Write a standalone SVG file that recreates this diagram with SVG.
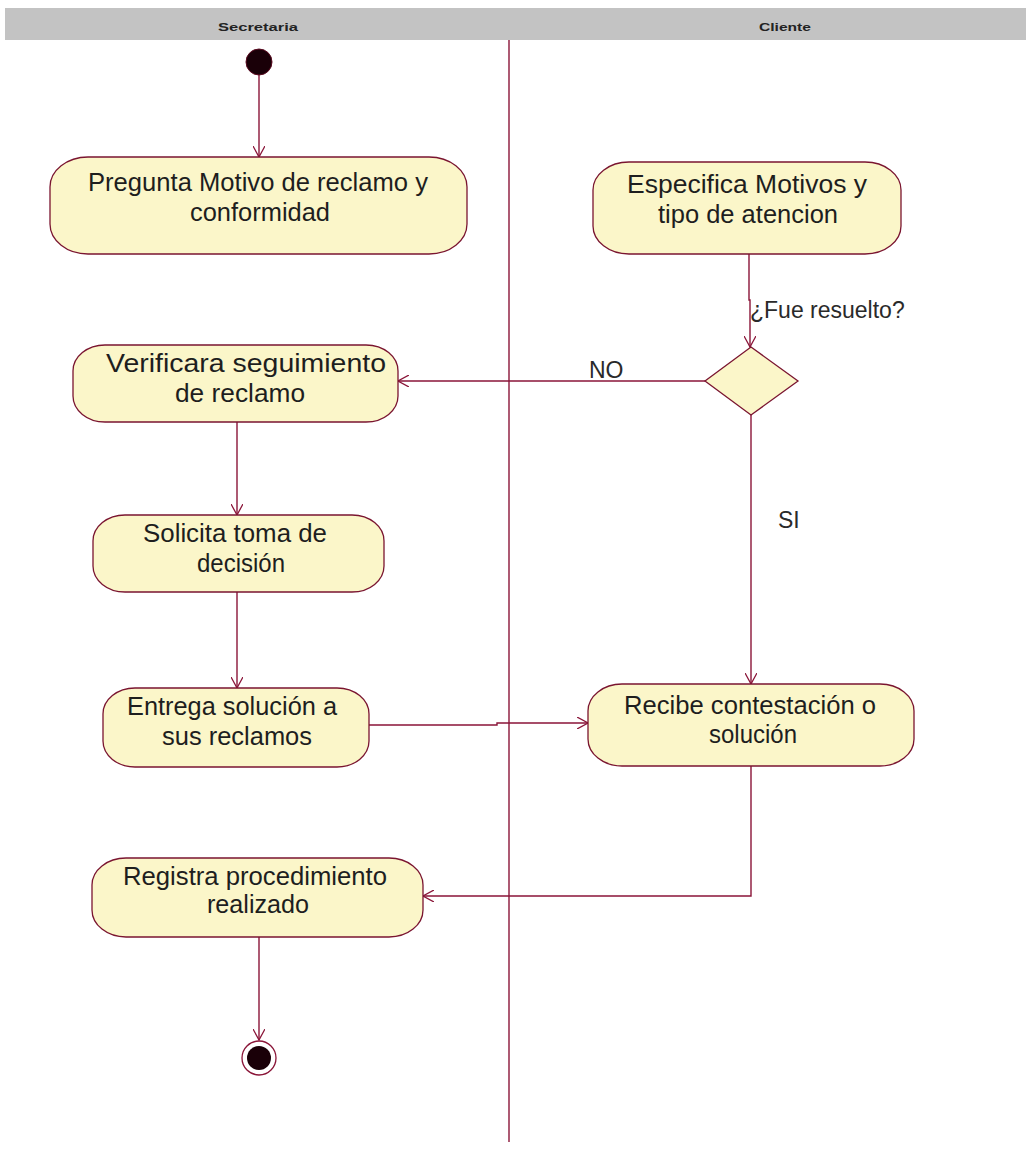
<svg xmlns="http://www.w3.org/2000/svg" width="1026" height="1150" viewBox="0 0 1026 1150">
  <style>
    .lane-title { font-family: "Liberation Sans", Arial, sans-serif; font-size: 11px; font-weight: bold; fill: #222; text-anchor: middle; }
    .act { fill: #fbf6c9; stroke: #7a1530; stroke-width: 1.3; }
    .lbl { font-family: "Liberation Sans", Arial, sans-serif; font-size: 25px; fill: #1e1e1e; text-anchor: middle; }
    .guard { font-family: "Liberation Sans", Arial, sans-serif; font-size: 23px; fill: #2a2a2a; }
    .flow { fill: none; stroke: #8a1538; stroke-width: 1.4; }
  </style>
  <defs>
    <marker id="arrow" viewBox="0 0 12 12" refX="11" refY="6" markerWidth="12" markerHeight="12" markerUnits="userSpaceOnUse" orient="auto">
      <path d="M0,0 L11,6 L0,12" fill="none" stroke="#8a1538" stroke-width="1.3"/>
    </marker>
  </defs>

  <rect width="1026" height="1150" fill="#ffffff"/>

  <!-- swimlane header and divider -->
  <g id="lanes">
    <rect x="5" y="8" width="1021" height="32" fill="#c3c3c3"/>
    <text class="lane-title" x="258" y="31" textLength="80" lengthAdjust="spacingAndGlyphs">Secretaria</text>
    <text class="lane-title" x="785" y="31" textLength="52" lengthAdjust="spacingAndGlyphs">Cliente</text>
    <line x1="509" y1="40" x2="509" y2="1142" stroke="#8a1538" stroke-width="1.4"/>
  </g>

  <!-- control flows -->
  <g id="connectors">
    <path class="flow" d="M259,75 L259,157" marker-end="url(#arrow)"/>
    <path class="flow" d="M749,254 L749,300 L750,300 L750,347" marker-end="url(#arrow)"/>
    <path class="flow" d="M705,381 L398,381" marker-end="url(#arrow)"/>
    <path class="flow" d="M237,422 L237,515" marker-end="url(#arrow)"/>
    <path class="flow" d="M237,592 L237,688" marker-end="url(#arrow)"/>
    <path class="flow" d="M369,725 L497,725 L497,723 L588,723" marker-end="url(#arrow)"/>
    <path class="flow" d="M751,415 L751,684" marker-end="url(#arrow)"/>
    <path class="flow" d="M751,766 L751,896 L423,896" marker-end="url(#arrow)"/>
    <path class="flow" d="M259,937 L259,1040" marker-end="url(#arrow)"/>
    <text class="guard" x="750" y="318">¿Fue resuelto?</text>
    <text class="guard" x="589" y="378">NO</text>
    <text class="guard" x="778" y="528">SI</text>
  </g>

  <g id="start">
    <circle cx="259" cy="62" r="13" fill="#1a0008" stroke="#5a0a20" stroke-width="1"/>
  </g>

  <g id="pregunta-motivo">
    <rect class="act" x="50" y="157" width="417" height="97" rx="38" ry="30"/>
    <text class="lbl" x="258" y="191" textLength="340" lengthAdjust="spacingAndGlyphs">Pregunta Motivo de reclamo y</text>
    <text class="lbl" x="260" y="221" textLength="140" lengthAdjust="spacingAndGlyphs">conformidad</text>
  </g>

  <g id="especifica-motivos">
    <rect class="act" x="593" y="162" width="308" height="92" rx="36" ry="28"/>
    <text class="lbl" x="747" y="193" textLength="240" lengthAdjust="spacingAndGlyphs">Especifica Motivos y</text>
    <text class="lbl" x="748" y="223" textLength="180" lengthAdjust="spacingAndGlyphs">tipo de atencion</text>
  </g>

  <g id="decision">
    <polygon points="751,347 798,381 751,415 705,381" fill="#fbf6c9" stroke="#7a1530" stroke-width="1.3"/>
  </g>

  <g id="verificara-seguimiento">
    <rect class="act" x="73" y="345" width="325" height="77" rx="32" ry="26"/>
    <text class="lbl" x="246" y="372" textLength="280" lengthAdjust="spacingAndGlyphs">Verificara seguimiento</text>
    <text class="lbl" x="240" y="402" textLength="130" lengthAdjust="spacingAndGlyphs">de reclamo</text>
  </g>

  <g id="solicita-toma">
    <rect class="act" x="93" y="515" width="291" height="77" rx="32" ry="26"/>
    <text class="lbl" x="235" y="542" textLength="184" lengthAdjust="spacingAndGlyphs">Solicita toma de</text>
    <text class="lbl" x="241" y="572" textLength="88" lengthAdjust="spacingAndGlyphs">decisión</text>
  </g>

  <g id="entrega-solucion">
    <rect class="act" x="103" y="688" width="266" height="79" rx="32" ry="26"/>
    <text class="lbl" x="232" y="715" textLength="210" lengthAdjust="spacingAndGlyphs">Entrega solución a</text>
    <text class="lbl" x="237" y="745" textLength="150" lengthAdjust="spacingAndGlyphs">sus reclamos</text>
  </g>

  <g id="recibe-contestacion">
    <rect class="act" x="588" y="684" width="326" height="82" rx="34" ry="27"/>
    <text class="lbl" x="750" y="714" textLength="252" lengthAdjust="spacingAndGlyphs">Recibe contestación o</text>
    <text class="lbl" x="753" y="743" textLength="88" lengthAdjust="spacingAndGlyphs">solución</text>
  </g>

  <g id="registra-procedimiento">
    <rect class="act" x="92" y="858" width="331" height="79" rx="34" ry="27"/>
    <text class="lbl" x="255" y="885" textLength="264" lengthAdjust="spacingAndGlyphs">Registra procedimiento</text>
    <text class="lbl" x="258" y="913" textLength="102" lengthAdjust="spacingAndGlyphs">realizado</text>
  </g>

  <g id="end">
    <circle cx="259" cy="1058" r="17" fill="#ffffff" stroke="#8a1538" stroke-width="1.3"/>
    <circle cx="259" cy="1058" r="12" fill="#1a0008"/>
  </g>
</svg>
